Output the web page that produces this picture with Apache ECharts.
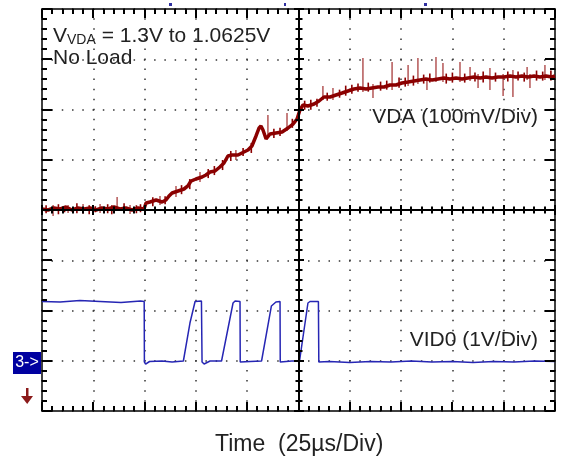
<!DOCTYPE html>
<html>
<head>
<meta charset="utf-8">
<script src="https://cdn.jsdelivr.net/npm/echarts@6/dist/echarts.min.js"></script>
<style>
  html, body { margin: 0; padding: 0; background: #fff; }
  #chart { width: 563px; height: 459px; }
</style>
</head>
<body>
<div id="chart"></div>
<script>
// time in us (25us/div, 0 = screen centre)
const vdaTime = [-125.0, -122.1, -119.2, -116.2, -113.3, -110.4, -107.5, -104.5, -101.6, -98.7, -95.8, -92.8, -89.9, -87.0, -84.1, -81.1, -78.2, -75.3,
  -74.3, -72.4, -69.4, -66.5, -64.6, -63.1, -61.6, -58.7, -55.8, -53.9, -52.4, -50.0, -47.0, -45.1, -43.1, -40.7, -38.3, -36.3, -34.4, -32.4, -29.5, -26.6, -24.6, -22.7, -20.7, -19.2, -18.3, -17.3, -15.8, -13.9, -11.0, -8.0, -5.1, -2.7, -0.7,
  0.7, 2.2, 4.6, 7.6, 10.0, 12.4, 15.4, 18.3, 21.2, 24.1, 27.0, 30.0, 32.9, 35.8, 38.7, 41.7, 44.6, 47.5, 50.4, 53.4, 56.3, 59.2, 62.1, 65.1, 68.0, 70.9, 73.8, 76.8, 79.7, 82.6, 85.5, 88.5, 91.4, 94.3, 97.2, 100.1, 103.1, 106.0, 108.9, 111.8, 114.8, 117.7, 120.6, 123.5, 125.0]
// VDA in mV (100mV/div)
const vdaMv = [1064.5, 1062.5, 1066.5, 1064.5, 1068.5, 1062.5, 1066.5, 1064.5, 1066.5, 1062.5, 1066.5, 1064.5, 1068.5, 1064.5, 1066.5, 1062.5, 1066.5, 1064.5,
  1076.4, 1078.4, 1082.4, 1078.4, 1082.4, 1090.3, 1096.3, 1100.3, 1104.3, 1110.3, 1120.2, 1124.2, 1128.2, 1132.2, 1138.1, 1140.1, 1148.1, 1156.0, 1170.0, 1172.0, 1172.0, 1177.9, 1181.9, 1189.9, 1209.8, 1225.7, 1229.7, 1221.7, 1203.8, 1213.7, 1215.7, 1217.7, 1225.7, 1233.6, 1243.6,
  1261.5, 1271.5, 1269.5, 1273.4, 1279.4, 1287.4, 1287.4, 1291.4, 1295.3, 1299.3, 1303.3, 1305.3, 1303.3, 1305.3, 1307.3, 1307.3, 1311.3, 1311.3, 1315.2, 1317.2, 1319.2, 1321.2, 1323.2, 1321.2, 1323.2, 1325.2, 1323.2, 1325.2, 1323.2, 1325.2, 1327.2, 1325.2, 1327.2, 1325.2, 1327.2, 1327.2, 1329.2, 1327.2, 1329.2, 1327.2, 1329.2, 1327.2, 1329.2, 1327.2, 1329.2]

// tall noise spikes on VDA
const spikeTime = [-119.6, -112.3, -105.0, -96.7, -88.4, -82.1, -67.5, -59.7, -48.0, -30.5, -14.9, -5.6, 11.9, 16.8, 31.4, 36.3, 45.6, 53.4, 58.2, 62.6, 67.0, 70.4, 78.7, 83.6, 87.5, 93.3, 99.7, 104.5, 111.4, 112.8, 120.1]
const spikeLow = [1050.6, 1056.5, 1054.5, 1056.5, 1060.5, 1054.5, 1072.5, 1088.4, 1118.2, 1162.0, 1209.8, 1219.7, 1281.4, 1281.4, 1297.3, 1285.4, 1301.3, 1309.3, 1313.2, 1301.3, 1317.2, 1317.2, 1317.2, 1319.2, 1305.3, 1301.3, 1289.4, 1287.4, 1321.2, 1305.3, 1321.2]
const spikeHigh = [1072.5, 1072.5, 1074.4, 1074.4, 1088.4, 1072.5, 1090.4, 1110.3, 1138.1, 1181.9, 1251.6, 1255.5, 1309.3, 1305.3, 1365.0, 1313.2, 1357.0, 1351.1, 1365.0, 1325.2, 1367.0, 1355.0, 1357.0, 1347.1, 1333.1, 1345.1, 1333.1, 1341.1, 1347.1, 1333.1, 1351.1]

// short jitter marks that make the trace band
const jitterTime = [-123, -117, -114, -108, -102, -99, -93, -91, -85, -79, -77, -71, -65, -57, -53, -44, -41, -37, -33, -27, -23, -12, -9, -3,
  3, 6, 9, 14, 20, 23, 26, 29, 34, 40, 43, 49, 52, 56, 61, 64, 72, 75, 81, 86, 90, 96, 102, 107, 110, 116, 119, 123]
const jitterLow = [1056, 1054, 1058, 1056, 1054, 1058, 1056, 1054, 1058, 1056, 1058, 1070, 1074, 1094, 1104, 1126, 1132, 1142, 1160, 1170, 1176, 1206, 1210, 1226,
  1262, 1262, 1268, 1280, 1286, 1290, 1294, 1298, 1298, 1300, 1302, 1306, 1308, 1310, 1314, 1316, 1314, 1316, 1316, 1318, 1316, 1318, 1318, 1320, 1318, 1320, 1320, 1320]
const jitterHigh = [1072, 1074, 1070, 1076, 1072, 1070, 1074, 1072, 1076, 1072, 1074, 1088, 1090, 1112, 1124, 1144, 1150, 1162, 1180, 1186, 1196, 1224, 1226, 1244,
  1280, 1282, 1284, 1296, 1302, 1310, 1312, 1314, 1316, 1318, 1320, 1326, 1326, 1330, 1332, 1334, 1334, 1336, 1334, 1336, 1338, 1336, 1338, 1338, 1336, 1340, 1338, 1340]

// VID0 in V (1V/div)
const vid0Time = [-125.0, -116.2, -106.5, -96.7, -86.5, -77.0, -75.2, -75.1, -74.5, -72.6, -66.5, -61.6, -56.1, -52.9, -50.4, -47.3, -47.0, -46.0, -43.1, -37.5, -31.9, -30.9, -28.5, -28.4, -23.6, -18.0, -13.2, -11.0, -9.0, -8.9, -3.2, 0.5, 4.6, 5.6, 9.7, 9.9, 15, 25, 35, 45, 55, 65, 75, 85, 95, 105, 115, 125]
const vid0Volt = [1.179, 1.169, 1.199, 1.179, 1.159, 1.189, 1.179, -0.025, -0.065, -0.015, -0.005, -0.025, -0.005, 0.751, 1.179, 1.189, -0.025, -0.065, -0.005, -0.005, 1.149, 1.189, 1.179, -0.025, -0.015, -0.005, 1.090, 1.169, 1.179, -0.025, -0.005, -0.005, 1.149, 1.179, 1.179, -0.025, -0.015, -0.035, -0.015, -0.025, -0.005, -0.025, -0.015, -0.035, -0.015, -0.025, -0.005, -0.015]

const black = { color: '#000', width: 1.5 }
const font = '"Liberation Sans", Arial, sans-serif'

function borderAxis(pos, min, max, interval, opts) {
  return Object.assign({
    type: 'value', min: min, max: max, interval: interval, position: pos,
    axisLine: { show: true, onZero: false, lineStyle: black },
    axisTick: { show: false },
    axisLabel: { show: false },
    splitLine: { show: false },
  }, opts)
}

// vertical marks (spikes) through the library scales
function marks(color, width) {
  return function (params, api) {
    const a = api.coord([api.value(0), api.value(1)])
    const b = api.coord([api.value(0), api.value(2)])
    return { type: 'line', shape: { x1: a[0], y1: a[1], x2: b[0], y2: b[1] }, style: { stroke: color, lineWidth: width } }
  }
}

const chart = echarts.init(document.getElementById('chart'))
chart.setOption({
  animation: false,
  grid: { left: 42, top: 9, width: 513, height: 402 },
  xAxis: [
    borderAxis('bottom', -125, 125, 25, { splitLine: { show: true, lineStyle: { color: '#333', width: 1.5, type: [1.5, 8.55], dashOffset: 0.75 } } }),
    borderAxis('top', -125, 125, 25),
  ],
  yAxis: [
    borderAxis('left', -4, 4, 1, { splitLine: { show: true, lineStyle: { color: '#333', width: 1.5, type: [1.5, 8.76], dashOffset: 0.75 } } }),
    borderAxis('right', -4, 4, 1),
    // channel scales
    { type: 'value', min: 662.5, max: 1462.5, show: false },
    { type: 'value', min: -1, max: 7, show: false },
  ],
  series: [
    {
      name: 'VDA spikes',
      type: 'custom',
      xAxisIndex: 0,
      yAxisIndex: 2,
      data: spikeTime.map((t, i) => [t, spikeLow[i], spikeHigh[i]]),
      encode: { x: 0, y: [1, 2] },
      renderItem: marks('#a83c3c', 1.3),
    },
    {
      name: 'VDA jitter',
      type: 'custom',
      xAxisIndex: 0,
      yAxisIndex: 2,
      data: jitterTime.map((t, i) => [t, jitterLow[i], jitterHigh[i]]),
      encode: { x: 0, y: [1, 2] },
      renderItem: marks('#8b0000', 1.6),
    },
    {
      name: 'VDA',
      type: 'line',
      xAxisIndex: 0,
      yAxisIndex: 2,
      showSymbol: false,
      data: vdaTime.map((t, i) => [t, vdaMv[i]]),
      lineStyle: { color: '#8b0000', width: 3.5 },
    },
    {
      name: 'VID0',
      type: 'line',
      xAxisIndex: 0,
      yAxisIndex: 3,
      showSymbol: false,
      data: vid0Time.map((t, i) => [t, vid0Volt[i]]),
      lineStyle: { color: '#2626b4', width: 1.5 },
    },
  ],
})

const labels = [
  {
    type: 'text', x: 53, y: 35,
    style: {
      text: '{a|V}{b|VDA}{a| = 1.3V to 1.0625V}',
      verticalAlign: 'middle',
      rich: {
        a: { fontFamily: font, fontSize: 21, fill: '#222', lineHeight: 24, verticalAlign: 'bottom' },
        b: { fontFamily: font, fontSize: 14, fill: '#222', lineHeight: 20, verticalAlign: 'bottom' },
      },
    },
  },
  { type: 'text', x: 53, y: 58, style: { text: 'No Load', font: '21px ' + font, fill: '#222', verticalAlign: 'middle' } },
  { type: 'text', x: 538, y: 117, style: { text: 'VDA (100mV/Div)', font: '21px ' + font, fill: '#222', align: 'right', verticalAlign: 'middle' } },
  { type: 'text', x: 538, y: 340, style: { text: 'VID0 (1V/Div)', font: '21px ' + font, fill: '#222', align: 'right', verticalAlign: 'middle' } },
  { type: 'text', x: 215, y: 445, style: { text: 'Time  (25µs/Div)', font: '23px ' + font, fill: '#222', verticalAlign: 'middle' } },
  // channel 3 ground marker
  { type: 'rect', shape: { x: 13, y: 352, width: 28, height: 22 }, style: { fill: '#0000a0' } },
  { type: 'text', x: 27, y: 363, style: { text: '3->', font: '16px ' + font, fill: '#fff', align: 'center', verticalAlign: 'middle' } },
  // red arrow
  { type: 'rect', shape: { x: 26, y: 388, width: 2.5, height: 10 }, style: { fill: '#8b1a1a' } },
  { type: 'polygon', shape: { points: [[21, 396], [33, 396], [27.2, 404]] }, style: { fill: '#8b1a1a' } },
  // small scope markers
  { type: 'rect', shape: { x: 169, y: 3, width: 3, height: 3 }, style: { fill: '#3030a0' } },
  { type: 'rect', shape: { x: 284, y: 3, width: 2, height: 3 }, style: { fill: '#3030a0' } },
  { type: 'rect', shape: { x: 424, y: 3, width: 3, height: 3 }, style: { fill: '#3030a0' } },
  { type: 'rect', shape: { x: 92, y: 403, width: 1.5, height: 8 }, style: { fill: '#d08a30' } },
]

// graticule ticks and centre cross, placed through the axis scales
const ticks = []
const toPx = (t, d) => {
  const p = chart.convertToPixel({ xAxisIndex: 0, yAxisIndex: 0 }, [t, d])
  return [Math.round(p[0]), Math.round(p[1])]
}
function seg(a, b) {
  ticks.push({ type: 'line', silent: true, z: 50, shape: { x1: a[0], y1: a[1], x2: b[0], y2: b[1] }, style: { stroke: '#000', lineWidth: 2 } })
}
seg(toPx(-125, 0), toPx(125, 0))
seg(toPx(0, -4), toPx(0, 4))
for (let i = 0; i <= 50; i++) {
  const t = -125 + 5 * i
  const big = i % 5 === 0
  const b = toPx(t, -4), tp = toPx(t, 4), c = toPx(t, 0)
  seg(b, [b[0], b[1] - (big ? 9 : 5)])
  seg(tp, [tp[0], tp[1] + (big ? 9 : 5)])
  seg([c[0], c[1] - (big ? 5 : 3.5)], [c[0], c[1] + (big ? 5 : 3.5)])
}
for (let i = 0; i <= 40; i++) {
  const d = -4 + 0.2 * i
  const big = i % 5 === 0
  const l = toPx(-125, d), r = toPx(125, d), c = toPx(0, d)
  seg(l, [l[0] + (big ? 10 : 5), l[1]])
  seg(r, [r[0] - (big ? 10 : 5), r[1]])
  seg([c[0] - (big ? 5 : 3.5), c[1]], [c[0] + (big ? 5 : 3.5), c[1]])
}
chart.setOption({ graphic: labels.concat(ticks) })
</script>
</body>
</html>
